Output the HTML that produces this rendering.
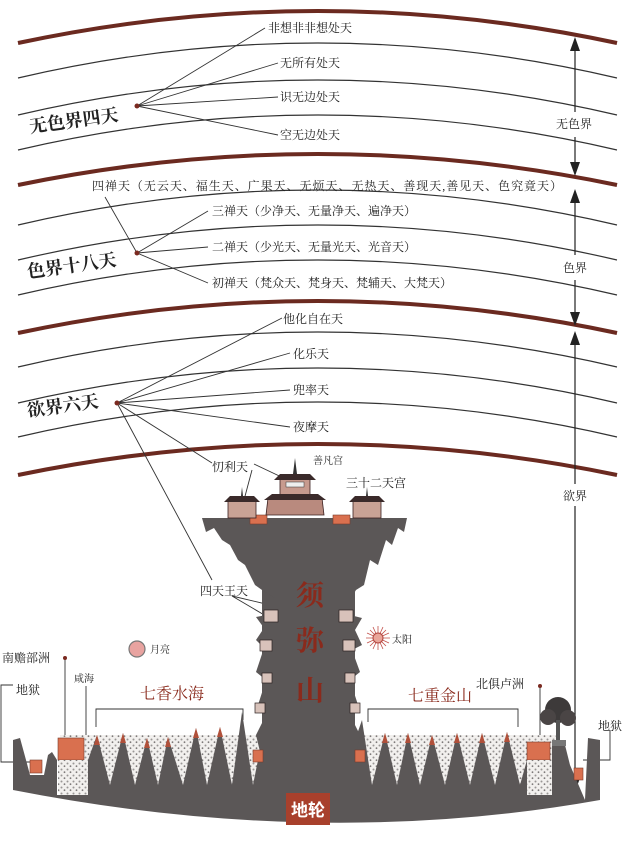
<!DOCTYPE html>
<html><head><meta charset="utf-8"><style>
html,body{margin:0;padding:0;background:#fff;}
svg{display:block;}
text{font-family:"Liberation Serif","Noto Serif CJK SC","Noto Sans CJK SC",serif;fill:#222;}
.b{font-family:"Liberation Sans","Noto Sans CJK SC",sans-serif;font-weight:bold;}
</style></head><body>
<svg width="640" height="847" viewBox="0 0 640 847" xmlns="http://www.w3.org/2000/svg">
<defs>
<pattern id="sp" width="6" height="6" patternUnits="userSpaceOnUse">
<rect width="6" height="6" fill="#f2f0ee"/><circle cx="1.5" cy="1.5" r="1" fill="#9a9696"/><circle cx="4.5" cy="4.2" r="0.9" fill="#7d7979"/></pattern>
</defs>
<g fill="none">
<path d="M18,43 Q318,-21 617,43" stroke="#6b2a20" stroke-width="4"/>
<path d="M18,185 Q318,123 617,185" stroke="#6b2a20" stroke-width="4"/>
<path d="M18,333 Q318,269 617,333" stroke="#6b2a20" stroke-width="4"/>
<path d="M18,475 Q318,413 617,475" stroke="#6b2a20" stroke-width="4"/>
<g stroke="#333" stroke-width="1.2">
<path d="M18,78 Q318,8 617,78"/><path d="M18,115 Q318,45 617,115"/><path d="M18,150 Q318,80 617,150"/>
<path d="M18,225 Q318,155 617,225"/><path d="M18,260 Q318,190 617,260"/><path d="M18,295 Q318,225 617,295"/>
<path d="M18,367 Q318,297 617,367"/><path d="M18,403 Q318,333 617,403"/><path d="M18,437 Q318,367 617,437"/>
</g>
<g stroke="#333" stroke-width="0.9">
<path d="M137,106 L265,28 M137,106 L278,63 M137,106 L278,97 M137,106 L278,135"/>
<path d="M137,253 L105,197 M137,253 L208,211 M137,253 L208,247 M137,253 L208,283"/>
<path d="M117,403 L282,318 M117,403 L290,353 M117,403 L290,390 M117,403 L290,427 M117,403 L212,463 M117,403 L212,580"/>
<path d="M252,470 L244,500 M254,464 L292,482"/>
<path d="M232,596 L270,605 M232,596 L266,616"/>
<path d="M96,727 V709 H243 V720"/><path d="M368,722 V709 H518 V727"/>
<path d="M65,658 V740"/><path d="M86,686 V740"/>
<path d="M13,685 H1 V762 H30"/>
<path d="M540,686 V745"/>
<path d="M583,760 H610 V730"/>
</g>
<g stroke="#222" stroke-width="1.2">
<path d="M575,46 V112 M575,137 V168 M575,198 V255 M575,280 V318 M575,340 V484 M575,506 V780"/>
</g>
</g>
<g fill="#222">
<path d="M575,37 l-5,14 h10z"/><path d="M575,176 l-5,-14 h10z"/>
<path d="M575,189 l-5,14 h10z"/><path d="M575,326 l-5,-14 h10z"/>
<path d="M575,331 l-5,14 h10z"/><path d="M575,792 l-5,-14 h10z"/>
</g>
<circle cx="137" cy="106" r="2.5" fill="#7a2a20"/><circle cx="137" cy="253" r="2.5" fill="#7a2a20"/><circle cx="117" cy="403" r="2.5" fill="#7a2a20"/>
<circle cx="65" cy="658" r="2" fill="#7a2a20"/><circle cx="540" cy="686" r="2" fill="#7a2a20"/>

<rect x="60" y="735" width="500" height="60" fill="url(#sp)"/>
<path fill="#5b5757" d="M13,740 L20,738 L26,760 L30,775 L44,775 L48,755 L52,752 L57,760 L57,795 L88,795 L88,760
L97,735 L110,785 L123,733 L135,785 L147,738 L158,785 L168,737 L183,785 L196,728 L207,785 L220,727 L232,785 L242,712 L253,785 L262,740
L262,520 L355,520 L355,740 L362,720 L372,785 L385,733 L397,785 L408,733 L420,785 L432,735 L445,785 L457,733 L470,785 L482,733 L495,785 L507,732 L520,785 L527,760 L527,795 L552,795 L552,740 L565,745 L570,765 L585,800 L588,738 L600,740 L600,800 Q320,850 13,790 Z"/>
<path fill="#5b5757" d="M202,518 L407,518 L404,532 L398,528 L392,545 L386,540 L378,565 L370,560 L364,585 L356,590 L350,600 L350,615 L362,618 L355,630 L362,645 L352,650 L360,672 L350,680 L358,705 L350,715 L360,735 L355,760 L262,760 L256,735 L266,715 L258,705 L266,680 L256,672 L264,648 L256,640 L264,628 L256,617 L282,612 L275,598 L262,590 L255,585 L245,565 L238,560 L230,545 L222,540 L214,528 L206,532 Z"/>
<g fill="#b0503a">
<path d="M97,735 l-3,10 h6z M123,733 l-3,10 h6z M147,738 l-3,10 h6z M168,737 l-3,10 h6z M196,728 l-3,10 h6z M220,727 l-3,10 h6z M385,733 l-3,10 h6z M408,733 l-3,10 h6z M432,735 l-3,10 h6z M457,733 l-3,10 h6z M482,733 l-3,10 h6z M507,732 l-3,10 h6z"/>
</g>
<g fill="#d9704f" stroke="#7a3a2a" stroke-width="0.6">
<rect x="58" y="738" width="26" height="22"/><rect x="30" y="760" width="12" height="13"/>
<rect x="527" y="742" width="23" height="18"/><rect x="574" y="768" width="9" height="12"/>
<rect x="250" y="515" width="17" height="9"/><rect x="333" y="515" width="17" height="9"/>
<rect x="253" y="750" width="10" height="12"/><rect x="355" y="750" width="10" height="12"/>
</g>
<rect x="58" y="760" width="27" height="32" fill="url(#sp)"/><rect x="527" y="760" width="25" height="35" fill="url(#sp)"/>
<circle cx="558" cy="710" r="13" fill="#3d3a3a"/><circle cx="548" cy="717" r="8" fill="#4a4545"/><circle cx="568" cy="718" r="8" fill="#4a4545"/>
<rect x="556" y="720" width="4" height="22" fill="#555"/><rect x="552" y="740" width="14" height="6" fill="#777"/>
<g>
<path d="M268,498 L322,498 L324,515 L266,515Z" fill="#b98a7e" stroke="#3a2020" stroke-width="0.8"/>
<rect x="280" y="478" width="30" height="20" fill="#c79a8e" stroke="#3a2020" stroke-width="0.8"/>
<path d="M274,480 L316,480 L310,474 L280,474Z" fill="#3a2a2a"/>
<path d="M264,500 L326,500 L318,494 L272,494Z" fill="#3a2a2a"/>
<rect x="286" y="482" width="18" height="5" fill="#eee" stroke="#333" stroke-width="0.5"/>
<path d="M295,458 L297,474 L293,474Z" fill="#333"/>
<rect x="228" y="500" width="28" height="18" fill="#c9a295" stroke="#3a2020" stroke-width="0.8"/><path d="M224,502 L260,502 L254,496 L230,496Z" fill="#3a2a2a"/><path d="M242,487 L243,496 L241,496Z" fill="#333"/>
<rect x="353" y="500" width="28" height="18" fill="#c9a295" stroke="#3a2020" stroke-width="0.8"/><path d="M349,502 L385,502 L379,496 L355,496Z" fill="#3a2a2a"/><path d="M367,487 L368,496 L366,496Z" fill="#333"/>
</g>
<g fill="#d8c2ba" stroke="#2a2020" stroke-width="0.7">
<rect x="264" y="610" width="14" height="12"/><rect x="339" y="610" width="14" height="12"/>
<rect x="260" y="640" width="12" height="11"/><rect x="343" y="640" width="12" height="11"/>
<rect x="262" y="673" width="10" height="10"/><rect x="345" y="673" width="10" height="10"/>
<rect x="255" y="703" width="10" height="10"/><rect x="350" y="703" width="10" height="10"/>
</g>
<g stroke="#c2504a" stroke-width="0.8">
<path d="M366,638 h24 M378,626 v24 M370,630 l16,16 M386,630 l-16,16 M367,633 l22,10 M367,643 l22,-10 M373,627 l10,22 M383,627 l-10,22"/>
</g>
<circle cx="378" cy="638" r="5" fill="#e9a59a" stroke="#b0403a"/>
<circle cx="137" cy="649" r="8" fill="#e8a3a0" stroke="#777" stroke-width="1.2"/>
<rect x="286" y="793" width="44" height="32" fill="#a8402c"/>
<text x="308" y="816" font-size="17" text-anchor="middle" class="b" style="fill:#fff">地轮</text>
<g font-size="28" class="b" text-anchor="middle">
<text x="310" y="605" style="fill:#8a2a1c">须</text><text x="310" y="650" style="fill:#8a2a1c">弥</text><text x="310" y="700" style="fill:#8a2a1c">山</text>
</g>
<g class="b" font-size="18">
<text x="30" y="133" transform="rotate(-8 30 133)">无色界四天</text>
<text x="28" y="278" transform="rotate(-8 28 278)">色界十八天</text>
<text x="28" y="417" transform="rotate(-8 28 417)">欲界六天</text>
</g>
<g font-size="12">
<text x="268" y="32">非想非非想处天</text>
<text x="280" y="67">无所有处天</text>
<text x="280" y="101">识无边处天</text>
<text x="280" y="139">空无边处天</text>
<text x="92" y="190" textLength="470" lengthAdjust="spacing">四禅天（无云天、福生天、广果天、无烦天、无热天、善现天,善见天、色究竟天）</text>
<text x="212" y="215">三禅天（少净天、无量净天、遍净天）</text>
<text x="212" y="251">二禅天（少光天、无量光天、光音天）</text>
<text x="212" y="287">初禅天（梵众天、梵身天、梵辅天、大梵天）</text>
<text x="283" y="323">他化自在天</text>
<text x="293" y="358">化乐天</text>
<text x="293" y="394">兜率天</text>
<text x="293" y="431">夜摩天</text>
<text x="556" y="128">无色界</text>
<text x="563" y="272">色界</text>
<text x="563" y="500">欲界</text>
<text x="212" y="471">忉利天</text>
<text x="346" y="487">三十二天宫</text>
<text x="200" y="595">四天王天</text>
<text x="598" y="730">地狱</text>
<text x="476" y="688">北俱卢洲</text>
<text x="16" y="694">地狱</text>
<text x="2" y="662">南赡部洲</text>
</g>
<g font-size="10"><text x="313" y="464">善凡宫</text><text x="392" y="643">太阳</text><text x="150" y="653">月亮</text><text x="74" y="682">咸海</text></g>
<g font-size="16"><text x="140" y="699" style="fill:#8a2a1c">七香水海</text><text x="408" y="701" style="fill:#8a2a1c">七重金山</text></g>
</svg>
</body></html>
